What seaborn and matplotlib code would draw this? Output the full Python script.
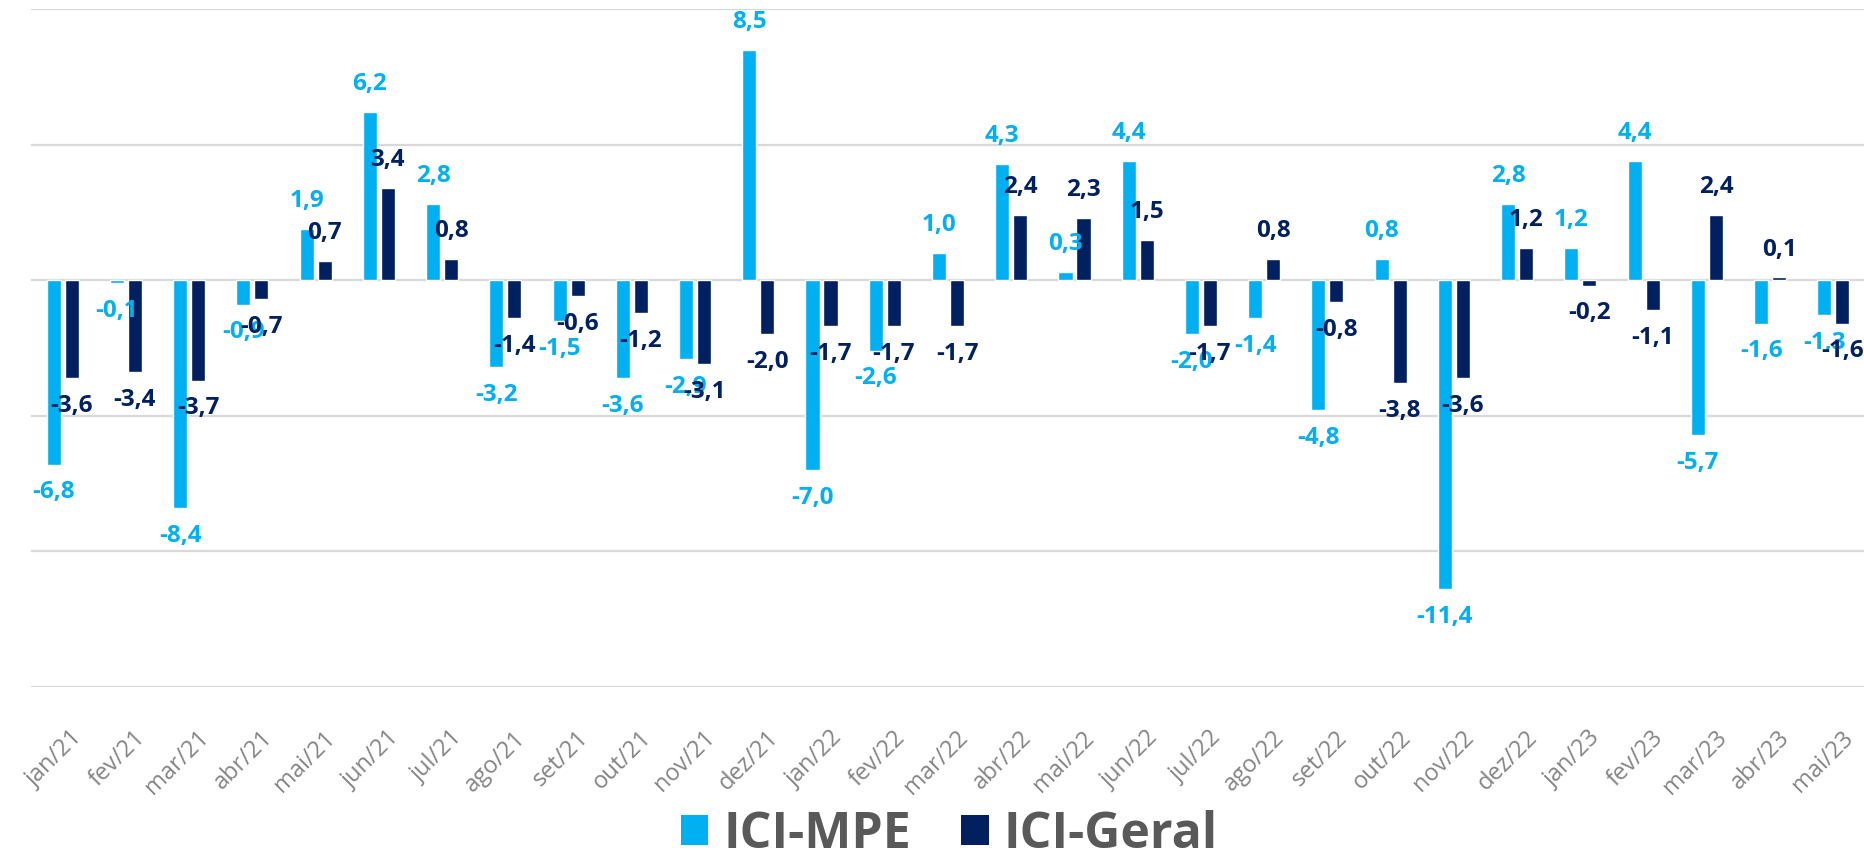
import matplotlib
matplotlib.use("Agg")
import matplotlib.pyplot as plt
import matplotlib.transforms as mtransforms
from matplotlib.patches import Patch
import pandas as pd
import seaborn as sns

# dados (variação %)
months = ["jan/21", "fev/21", "mar/21", "abr/21", "mai/21", "jun/21", "jul/21", "ago/21",
          "set/21", "out/21", "nov/21", "dez/21", "jan/22", "fev/22", "mar/22", "abr/22",
          "mai/22", "jun/22", "jul/22", "ago/22", "set/22", "out/22", "nov/22", "dez/22",
          "jan/23", "fev/23", "mar/23", "abr/23", "mai/23"]
ici_mpe = [-6.8, -0.1, -8.4, -0.9, 1.9, 6.2, 2.8, -3.2, -1.5, -3.6, -2.9, 8.5, -7.0, -2.6,
           1.0, 4.3, 0.3, 4.4, -2.0, -1.4, -4.8, 0.8, -11.4, 2.8, 1.2, 4.4, -5.7, -1.6, -1.3]
ici_geral = [-3.6, -3.4, -3.7, -0.7, 0.7, 3.4, 0.8, -1.4, -0.6, -1.2, -3.1, -2.0, -1.7, -1.7,
             -1.7, 2.4, 2.3, 1.5, -1.7, 0.8, -0.8, -3.8, -3.6, 1.2, -0.2, -1.1, 2.4, 0.1, -1.6]
series = ["ICI-MPE", "ICI-Geral"]
colors = ["#00B0F0", "#002060"]

df = pd.DataFrame({
    "mes": months * 2,
    "valor": ici_mpe + ici_geral,
    "serie": [series[0]] * len(months) + [series[1]] * len(months),
})

sns.set_theme(style="white")
plt.rcParams["font.family"] = ["Open Sans", "DejaVu Sans"]

fig = plt.figure(figsize=(18.65, 8.58), dpi=100)
ax = fig.add_axes([31 / 1865, 1 - 687 / 858, 1 - 31 / 1865, 678 / 858])

sns.barplot(data=df, x="mes", y="valor", hue="serie", order=months, hue_order=series,
            palette=colors, saturation=1, width=0.57, gap=0.22, legend=False, ax=ax)

ax.set_xlim(-0.5, len(months) - 0.5)
ax.set_ylim(-15, 10)
ax.set_yticks(range(-15, 11, 5))
ax.tick_params(axis="y", left=False, labelleft=False)
ax.yaxis.grid(True, color="#d9d9d9", lw=1.6)
ax.set_axisbelow(True)
for s in ax.spines.values():
    s.set_visible(False)
ax.set_xlabel("")
ax.set_ylabel("")

# rótulos dos eixos
ax.set_xticks(range(len(months)))
ax.set_xticklabels(months, rotation=45, ha="right", rotation_mode="anchor",
                   color="#858585", fontsize=17)
ax.tick_params(axis="x", length=0, pad=28)
shift = mtransforms.ScaledTranslation(8 / 100, 0, fig.dpi_scale_trans)
for lbl in ax.get_xticklabels():
    lbl.set_transform(lbl.get_transform() + shift)

# rótulos de dados
for cont, vals, c in zip(ax.containers, [ici_mpe, ici_geral], colors):
    for bar, v in zip(cont, vals):
        x = bar.get_x() + bar.get_width() / 2
        ax.annotate(f"{v:.1f}".replace(".", ","), (x, v),
                    xytext=(0, 20 if v > 0 else -20), textcoords="offset points",
                    ha="center", va="center", fontsize=17.5, fontweight="bold", color=c)

handles = [Patch(facecolor=c, edgecolor="none") for c in colors]
fig.legend(handles, series, loc="center", bbox_to_anchor=(0.509, 1 - 835 / 858), ncol=2,
           frameon=False, prop={"family": "Open Sans", "weight": "bold", "size": 36},
           labelcolor="#595959", handlelength=0.55, handleheight=0.55,
           handletextpad=0.3, columnspacing=1.0)

fig.savefig("out.png", dpi=100, facecolor="white")
